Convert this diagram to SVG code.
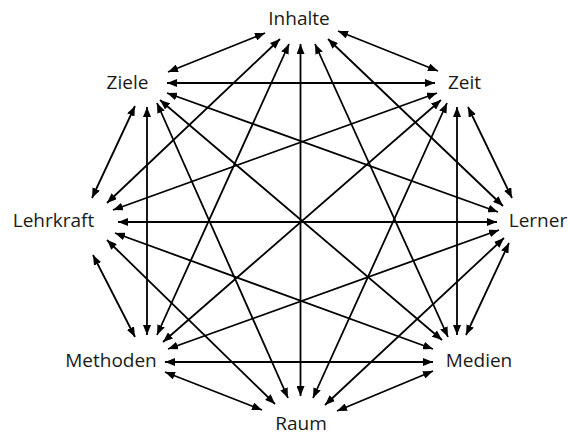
<svg xmlns="http://www.w3.org/2000/svg" width="570" height="435" viewBox="0 0 570 435">
<style>
.lbl{font-family:"Open Sans","Noto Sans","Liberation Sans",sans-serif;font-size:19px;fill:#1a1a1a;text-anchor:middle}
.e{stroke:#000;stroke-width:1.8;fill:none;marker-start:url(#ah);marker-end:url(#ah)}
</style>
<defs>
<marker id="ah" viewBox="0 0 10 8" refX="10" refY="4" markerWidth="10" markerHeight="8" markerUnits="userSpaceOnUse" orient="auto-start-reverse">
<path d="M0,0 L10,4 L0,8 z" fill="#000"/>
</marker>
</defs>
<rect width="570" height="435" fill="#fff"/>
<g id="connectors">
<line class="e" x1="265" y1="33" x2="168" y2="72"/>
<line class="e" x1="338" y1="31" x2="438" y2="71"/>
<line class="e" x1="167" y1="83" x2="435" y2="83"/>
<line class="e" x1="135" y1="106" x2="92" y2="198"/>
<line class="e" x1="147" y1="107" x2="147" y2="335"/>
<line class="e" x1="457" y1="107" x2="457" y2="335"/>
<line class="e" x1="468" y1="107" x2="512" y2="198"/>
<line class="e" x1="93" y1="255" x2="135" y2="337"/>
<line class="e" x1="509" y1="243" x2="466" y2="335"/>
<line class="e" x1="165" y1="372" x2="262" y2="410"/>
<line class="e" x1="433" y1="371" x2="337" y2="411"/>
<line class="e" x1="165" y1="362" x2="433" y2="362"/>
<line class="e" x1="118" y1="222" x2="497" y2="222"/>
<line class="e" x1="300.5" y1="44" x2="300.5" y2="396"/>
<line class="e" x1="280" y1="39" x2="107" y2="203"/>
<line class="e" x1="328" y1="39" x2="503" y2="206"/>
<line class="e" x1="289" y1="44" x2="157" y2="335"/>
<line class="e" x1="315" y1="44" x2="448" y2="337"/>
<line class="e" x1="167" y1="93" x2="498" y2="212"/>
<line class="e" x1="160" y1="100" x2="442" y2="340"/>
<line class="e" x1="157" y1="103" x2="288" y2="398"/>
<line class="e" x1="437" y1="93" x2="113" y2="210"/>
<line class="e" x1="441" y1="100" x2="163" y2="342"/>
<line class="e" x1="447" y1="103" x2="313" y2="398"/>
<line class="e" x1="115" y1="233" x2="433" y2="349"/>
<line class="e" x1="107" y1="240" x2="275" y2="404"/>
<line class="e" x1="499" y1="230" x2="168" y2="349"/>
<line class="e" x1="504" y1="238" x2="325" y2="405"/>
</g>
<g id="inhalte"><text class="lbl" x="299" y="25">Inhalte</text></g>
<g id="ziele"><text class="lbl" x="127.5" y="89">Ziele</text></g>
<g id="zeit"><text class="lbl" x="464.5" y="89">Zeit</text></g>
<g id="lehrkraft"><text class="lbl" x="53.5" y="227">Lehrkraft</text></g>
<g id="lerner"><text class="lbl" x="538" y="227">Lerner</text></g>
<g id="methoden"><text class="lbl" x="111" y="367">Methoden</text></g>
<g id="medien"><text class="lbl" x="479" y="367">Medien</text></g>
<g id="raum"><text class="lbl" x="301" y="430">Raum</text></g>
</svg>
